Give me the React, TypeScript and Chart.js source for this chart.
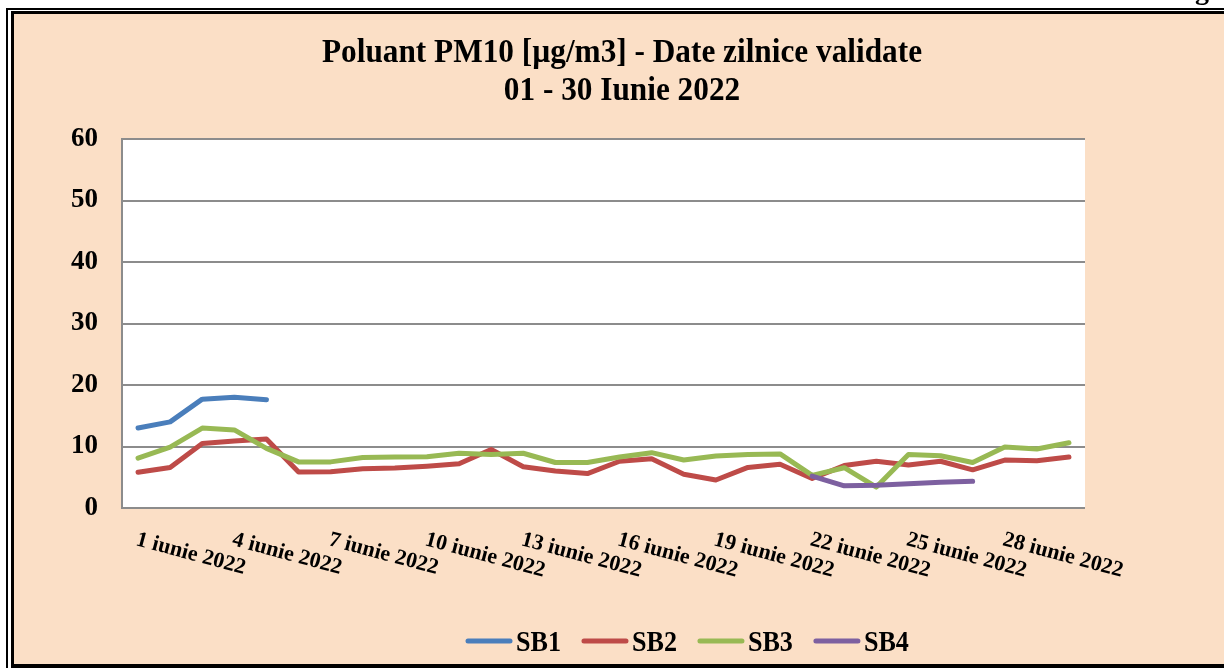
import React, { useEffect, useRef } from 'react';
import { Chart, registerables } from 'chart.js';

Chart.register(...registerables);

const titleLines = ['Poluant PM10 [µg/m3] - Date zilnice validate', '01 - 30 Iunie 2022'];

const categories = [
  '1 iunie 2022', '2 iunie 2022', '3 iunie 2022', '4 iunie 2022', '5 iunie 2022',
  '6 iunie 2022', '7 iunie 2022', '8 iunie 2022', '9 iunie 2022', '10 iunie 2022',
  '11 iunie 2022', '12 iunie 2022', '13 iunie 2022', '14 iunie 2022', '15 iunie 2022',
  '16 iunie 2022', '17 iunie 2022', '18 iunie 2022', '19 iunie 2022', '20 iunie 2022',
  '21 iunie 2022', '22 iunie 2022', '23 iunie 2022', '24 iunie 2022', '25 iunie 2022',
  '26 iunie 2022', '27 iunie 2022', '28 iunie 2022', '29 iunie 2022', '30 iunie 2022',
];

const shownTickLabels = [
  '1 iunie 2022', '4 iunie 2022', '7 iunie 2022', '10 iunie 2022', '13 iunie 2022',
  '16 iunie 2022', '19 iunie 2022', '22 iunie 2022', '25 iunie 2022', '28 iunie 2022',
];

const seriesNames = ['SB1', 'SB2', 'SB3', 'SB4'];

const sb1 = [13.0, 14.0, 17.7, 18.0, 17.6, null, null, null, null, null,
  null, null, null, null, null, null, null, null, null, null,
  null, null, null, null, null, null, null, null, null, null];

const sb2 = [5.8, 6.6, 10.5, 10.9, 11.2, 5.85, 5.9, 6.4, 6.5, 6.8,
  7.2, 9.5, 6.7, 6.0, 5.6, 7.6, 8.0, 5.5, 4.55, 6.6,
  7.1, 4.8, 6.9, 7.6, 7.0, 7.6, 6.2, 7.8, 7.7, 8.3];

const sb3 = [8.1, 9.9, 13.0, 12.7, 9.7, 7.5, 7.5, 8.2, 8.3, 8.35,
  8.9, 8.7, 8.9, 7.4, 7.4, 8.3, 9.0, 7.8, 8.45, 8.7,
  8.8, 5.3, 6.55, 3.4, 8.7, 8.5, 7.4, 9.9, 9.6, 10.6];

const sb4 = [null, null, null, null, null, null, null, null, null, null,
  null, null, null, null, null, null, null, null, null, null,
  null, 5.2, 3.6, 3.7, 3.95, 4.2, 4.35, null, null, null];

const yTicks = [0, 10, 20, 30, 40, 50, 60];

const COLORS = ['#4A7EBB', '#BE4B48', '#98B954', '#7D60A0'];
const PEACH = '#FBDFC6';
const GRID = '#8C8C8C';
const SERIF = '"Liberation Serif", "Times New Roman", serif';

const decorPlugin = {
  id: 'decor',
  beforeDraw(chart: any) {
    const ctx = chart.ctx as CanvasRenderingContext2D;
    const w = chart.width;
    const h = chart.height;
    ctx.save();
    ctx.fillStyle = '#ffffff';
    ctx.fillRect(0, 0, w, h);
    ctx.fillStyle = PEACH;
    ctx.fillRect(14, 14, w, h - 18);
    ctx.fillStyle = '#000000';
    // outer thin frame
    ctx.fillRect(6, 8, 2, h);
    ctx.fillRect(6, 8, w, 2);
    // inner thick frame
    ctx.fillRect(11, 11, 3, h);
    ctx.fillRect(11, 11, w, 3);
    ctx.fillRect(11, 664, w, 4);
    // descender of a letter from the text above the frame
    ctx.font = 'bold 28px ' + SERIF;
    ctx.textAlign = 'left';
    ctx.textBaseline = 'alphabetic';
    ctx.fillText('g', 1195, -1);
    // plot area
    const a = chart.chartArea;
    ctx.fillStyle = '#ffffff';
    ctx.fillRect(a.left, a.top, a.right - a.left, a.bottom - a.top);
    ctx.restore();
  },
  afterDraw(chart: any) {
    const ctx = chart.ctx as CanvasRenderingContext2D;
    const xs = chart.scales.x;
    ctx.save();
    ctx.fillStyle = '#000000';

    // title
    ctx.textAlign = 'center';
    ctx.textBaseline = 'middle';
    ctx.font = 'bold 34px ' + SERIF;
    const titleY = [53, 91];
    titleLines.forEach((t, i) => {
      ctx.save();
      ctx.translate(622, titleY[i]);
      ctx.scale(0.92, 1);
      ctx.fillText(t, 0, 0);
      ctx.restore();
    });

    // rotated category labels
    ctx.font = 'bold 22px ' + SERIF;
    ctx.textAlign = 'left';
    ctx.textBaseline = 'alphabetic';
    const ang = (15 * Math.PI) / 180;
    shownTickLabels.forEach((lab) => {
      const idx = categories.indexOf(lab);
      const px = xs.getPixelForValue(idx);
      ctx.save();
      ctx.translate(px - 3, 545);
      ctx.rotate(ang);
      ctx.fillText(lab, 0, 0);
      ctx.restore();
    });

    // legend
    const sx = 0.87;
    ctx.font = 'bold 30px ' + SERIF;
    ctx.textBaseline = 'alphabetic';
    let x = 466;
    const ly = 641;
    chart.data.datasets.forEach((ds: any) => {
      ctx.strokeStyle = ds.borderColor;
      ctx.lineWidth = 5;
      ctx.lineCap = 'round';
      ctx.beginPath();
      ctx.moveTo(x + 2, ly);
      ctx.lineTo(x + 44, ly);
      ctx.stroke();
      const tx = x + 50;
      const tw = ctx.measureText(ds.label).width * sx;
      ctx.save();
      ctx.translate(tx, 651);
      ctx.scale(sx, 1);
      ctx.fillText(ds.label, 0, 0);
      ctx.restore();
      x = tx + tw + 21;
    });
    ctx.restore();
  },
};

export default function App() {
  const ref = useRef<HTMLCanvasElement | null>(null);

  useEffect(() => {
    if (!ref.current) return;
    const seriesData = [sb1, sb2, sb3, sb4];
    const chart = new Chart(ref.current, {
      type: 'line',
      data: {
        labels: categories,
        datasets: seriesNames.map((name, i) => ({
          label: name,
          data: seriesData[i],
          borderColor: COLORS[i],
          backgroundColor: COLORS[i],
          borderWidth: 5,
          pointRadius: 0,
          pointHoverRadius: 0,
          tension: 0,
          spanGaps: false,
          borderCapStyle: 'round' as const,
          borderJoinStyle: 'round' as const,
          order: 4 - i,
        })),
      },
      options: {
        responsive: false,
        animation: false,
        devicePixelRatio: 1,
        layout: { padding: { left: 16, right: 139, top: 139, bottom: 160 } },
        plugins: {
          legend: { display: false },
          title: { display: false },
          tooltip: { enabled: false },
        },
        scales: {
          x: {
            type: 'category',
            offset: true,
            grid: { display: false, drawTicks: false },
            border: { display: false },
            ticks: { display: false },
            afterFit: (s: any) => { s.height = 0; },
          },
          y: {
            min: 0,
            max: 60,
            afterBuildTicks: (s: any) => { s.ticks = yTicks.map((v) => ({ value: v })); },
            grid: { color: GRID, lineWidth: 2, drawTicks: false },
            border: { display: true, color: GRID, width: 2 },
            ticks: {
              padding: 24,
              color: '#000000',
              font: { family: SERIF, size: 27, weight: 'bold' },
            },
            afterFit: (s: any) => { s.width = 106; },
          },
        },
      },
      plugins: [decorPlugin],
    });
    return () => chart.destroy();
  }, []);

  return (
    <div style={{ position: 'fixed', left: 0, top: 0, width: 1224, height: 668 }}>
      <canvas ref={ref} width={1224} height={668} style={{ display: 'block' }} />
    </div>
  );
}
